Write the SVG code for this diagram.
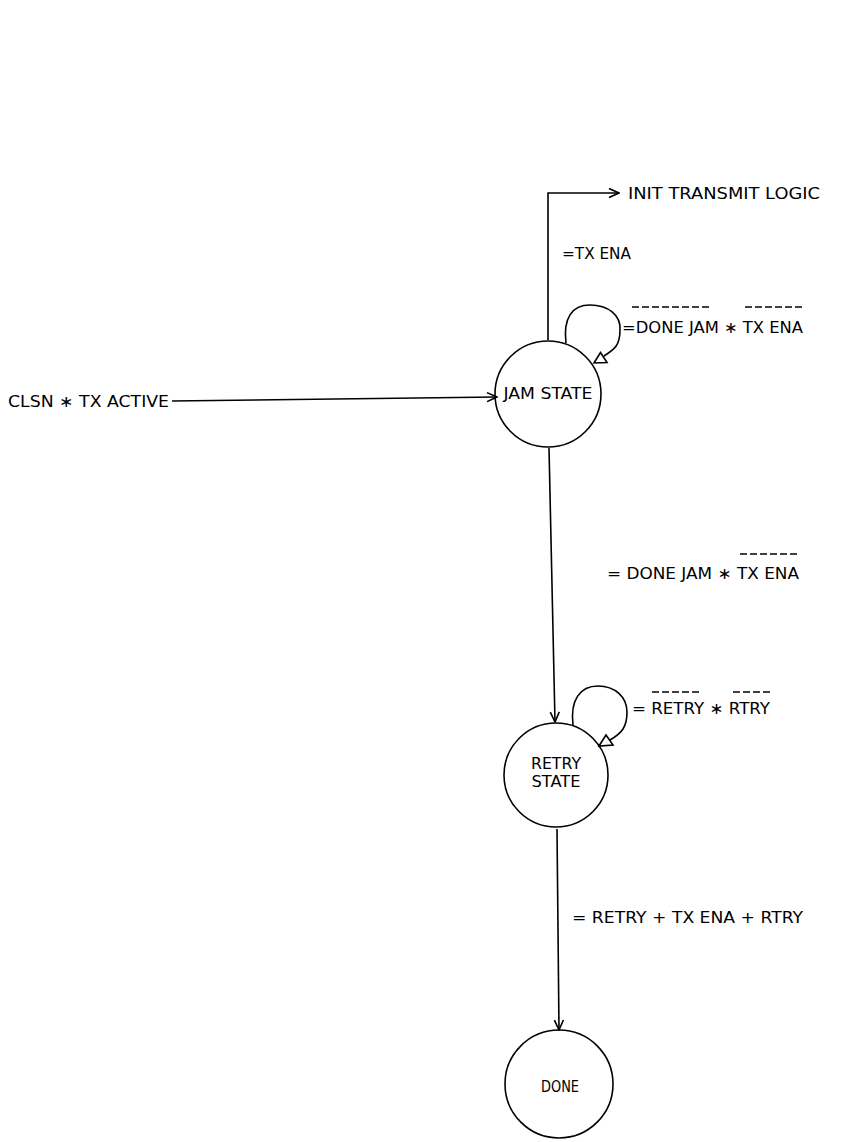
<svg xmlns="http://www.w3.org/2000/svg" width="850" height="1142" viewBox="0 0 850 1142">
<style>
  .n { fill: none; stroke: #000; stroke-width: 1.6; }
  .t { font-family: "DejaVu Sans", "Liberation Sans", sans-serif; font-size: 16px; fill: #000; }
  .ob { stroke: #000; stroke-width: 1.6; stroke-dasharray: 7 3; fill: none; }
</style>
<defs>
  <marker id="open" markerWidth="12" markerHeight="12" refX="11" refY="6" orient="auto" markerUnits="userSpaceOnUse">
    <path d="M1,1.5 L11,6 L1,10.5" fill="none" stroke="#000" stroke-width="1.6"/>
  </marker>
</defs>
<rect width="850" height="1142" fill="#fff"/>

<g id="connectors">
  <path id="e-init" class="n" d="M548 340 L548 193 L619 193" marker-end="url(#open)"/>
  <path id="e-clsn" class="n" d="M172 401 L497 397" marker-end="url(#open)"/>
  <path id="e-jam-loop" class="n" d="M566 343 C563 318, 572 305, 590 305 C608 305, 621 315, 620 330 C620 345, 615 349, 604 356"/>
  <polygon class="n" points="594,363 600.5,352.5 607,362.5"/>
  <path id="e-jam-retry" class="n" d="M549 448 L555 722" marker-end="url(#open)"/>
  <path id="e-retry-loop" class="n" d="M573 725 C570 700, 580 686, 598 686 C615 686, 627 697, 627 712 C627 727, 622 733, 610 740"/>
  <polygon class="n" points="599,746 606,735 613,745"/>
  <path id="e-retry-done" class="n" d="M557 829 L559 1030" marker-end="url(#open)"/>

  <text class="t" x="628" y="199" textLength="192" lengthAdjust="spacingAndGlyphs">INIT TRANSMIT LOGIC</text>
  <text class="t" x="562" y="259" textLength="69" lengthAdjust="spacingAndGlyphs">=TX ENA</text>
  <text class="t" x="622" y="333" textLength="181" lengthAdjust="spacingAndGlyphs">=DONE JAM ∗ TX ENA</text>
  <line class="ob" x1="632" y1="307" x2="712" y2="307"/>
  <line class="ob" x1="745" y1="307" x2="803" y2="307"/>
  <text class="t" x="8" y="407" textLength="161" lengthAdjust="spacingAndGlyphs">CLSN ∗ TX ACTIVE</text>
  <text class="t" x="607" y="579" textLength="192" lengthAdjust="spacingAndGlyphs">= DONE JAM ∗ TX ENA</text>
  <line class="ob" x1="740" y1="554" x2="798" y2="554"/>
  <text class="t" x="632" y="714" textLength="138" lengthAdjust="spacingAndGlyphs">= RETRY ∗ RTRY</text>
  <line class="ob" x1="652" y1="692" x2="700" y2="692"/>
  <line class="ob" x1="733" y1="692" x2="771" y2="692"/>
  <text class="t" x="572" y="923" textLength="231" lengthAdjust="spacingAndGlyphs">= RETRY + TX ENA + RTRY</text>
</g>

<g id="jam-state">
  <circle class="n" cx="548" cy="394" r="53"/>
  <text class="t" x="548" y="399" text-anchor="middle" textLength="89" lengthAdjust="spacingAndGlyphs">JAM STATE</text>
</g>
<g id="retry-state">
  <circle class="n" cx="556" cy="775" r="52"/>
  <text class="t" x="556" y="769" text-anchor="middle" textLength="50" lengthAdjust="spacingAndGlyphs">RETRY</text>
  <text class="t" x="556" y="787" text-anchor="middle" textLength="49" lengthAdjust="spacingAndGlyphs">STATE</text>
</g>
<g id="done">
  <circle class="n" cx="559" cy="1084" r="54"/>
  <text class="t" x="560" y="1092" text-anchor="middle" textLength="38" lengthAdjust="spacingAndGlyphs">DONE</text>
</g>
</svg>
